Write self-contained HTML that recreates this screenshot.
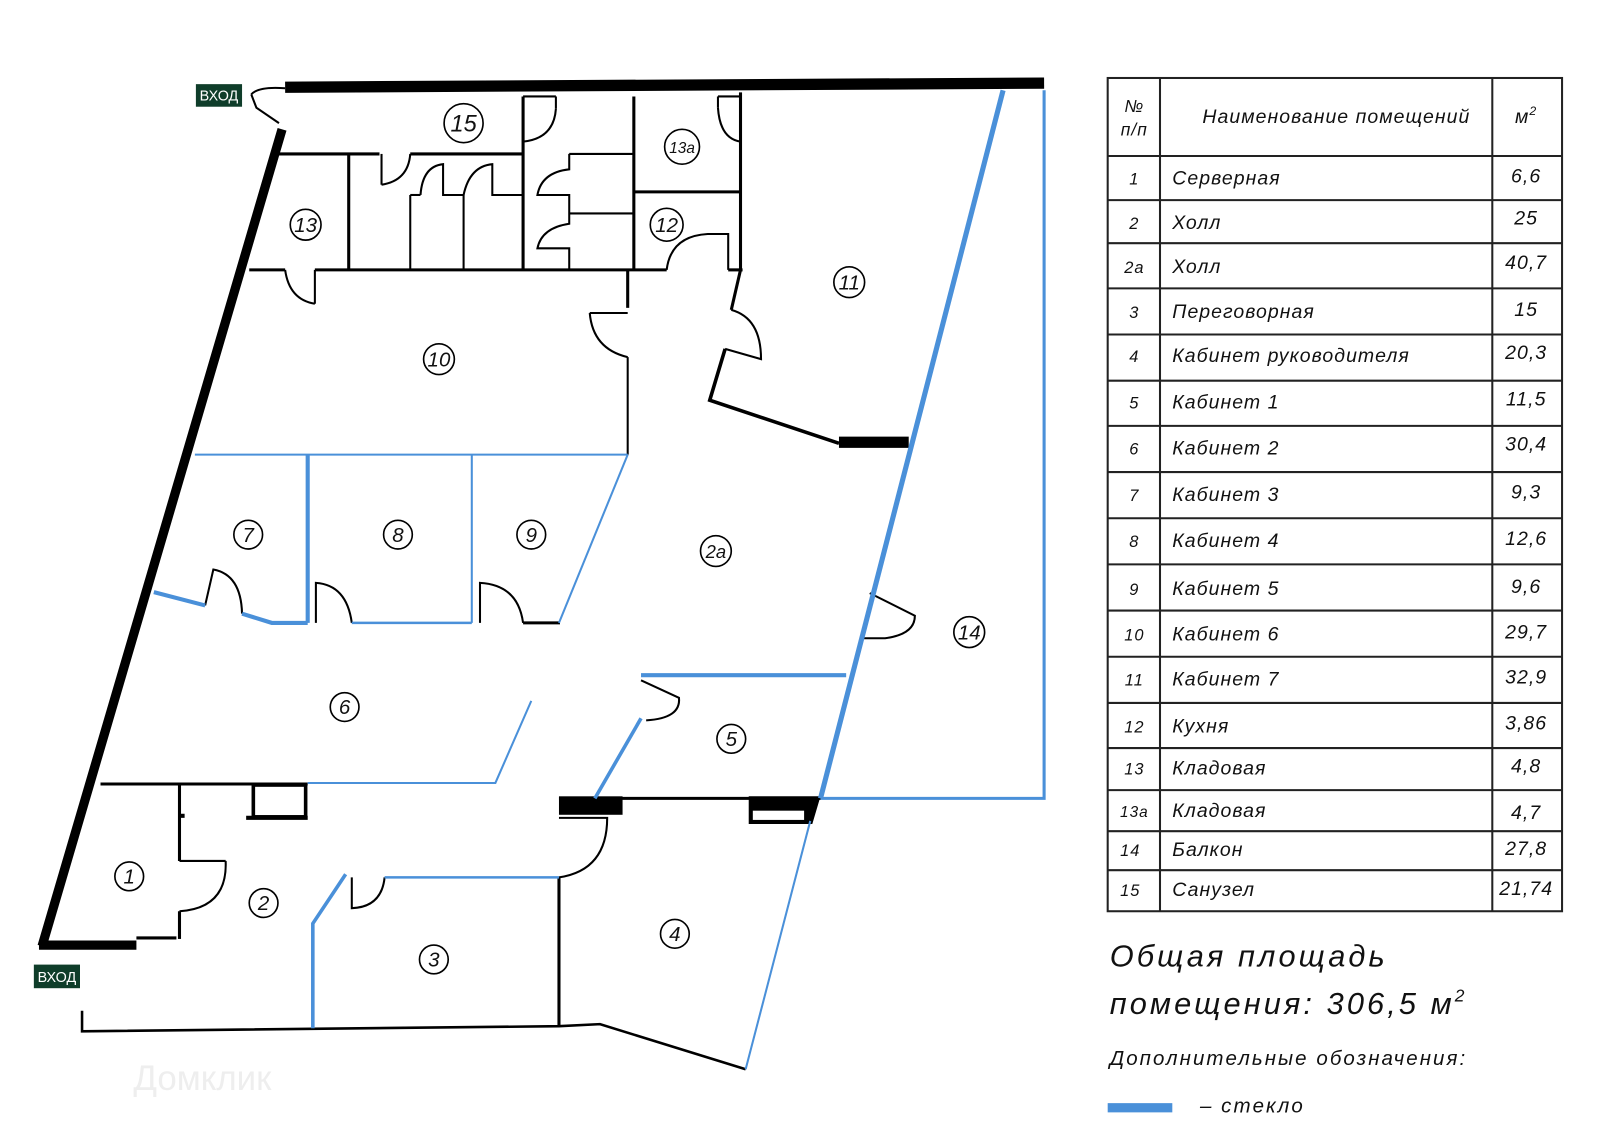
<!DOCTYPE html>
<html><head><meta charset="utf-8"><style>
html,body{margin:0;padding:0;background:#fff;}
svg{display:block}
text{font-family:"Liberation Sans","DejaVu Sans",sans-serif;font-style:italic;fill:#111}
.n{font-size:20px;text-anchor:middle}
.t{font-size:19px;letter-spacing:1px}
</style></head><body>
<svg width="1600" height="1137" viewBox="0 0 1560 1108" preserveAspectRatio="none" xmlns="http://www.w3.org/2000/svg">
<g stroke="#000" fill="none" stroke-linecap="butt">
<line x1="278" y1="85" x2="1018" y2="81" stroke-width="11"/>
<line x1="275" y1="126" x2="41" y2="922" stroke-width="9"/>
<line x1="38" y1="921" x2="133" y2="921" stroke-width="9"/>
<line x1="133" y1="914" x2="172" y2="914" stroke-width="3"/>
<path d="M245 92 Q252 84 278 86 M245 92 L250 105 L272 120" stroke-width="2"/>
<line x1="265" y1="150" x2="370" y2="150" stroke-width="3"/>
<line x1="400" y1="150" x2="510" y2="150" stroke-width="3"/>
<line x1="372" y1="150" x2="372" y2="180" stroke-width="2"/>
<path d="M372 180 Q398 176 400 150" stroke-width="2"/>
<line x1="340" y1="150" x2="340" y2="263" stroke-width="3"/>
<line x1="510" y1="94" x2="510" y2="263" stroke-width="3"/>
<line x1="510" y1="94" x2="542" y2="94" stroke-width="2"/>
<line x1="542" y1="94" x2="542" y2="106" stroke-width="2"/>
<path d="M510 138 Q540 135 542 106" stroke-width="2"/>
<line x1="618" y1="94" x2="618" y2="263" stroke-width="3"/>
<line x1="722" y1="90" x2="722" y2="263" stroke-width="3"/>
<line x1="618" y1="187" x2="722" y2="187" stroke-width="3"/>
<line x1="722" y1="94" x2="700" y2="94" stroke-width="2"/><line x1="700" y1="94" x2="700" y2="105" stroke-width="2"/>
<path d="M700 105 Q702 135 722 138" stroke-width="2"/>
<line x1="400" y1="190" x2="400" y2="263" stroke-width="2"/>
<line x1="452" y1="190" x2="452" y2="263" stroke-width="2"/>
<line x1="400" y1="190" x2="410" y2="190" stroke-width="2"/>
<path d="M410 190 Q412 162 432 160 L432 190 L452 190" stroke-width="2"/>
<path d="M452 190 Q458 162 480 160 L480 190 L510 190" stroke-width="2"/>
<line x1="555" y1="150" x2="618" y2="150" stroke-width="2"/>
<line x1="555" y1="208" x2="618" y2="208" stroke-width="2"/>
<path d="M555 150 L555 165 Q528 168 524 190 L555 190 L555 208" stroke-width="2"/>
<path d="M555 208 L555 218 Q528 222 524 242 L555 242 L555 263" stroke-width="2"/>
<path d="M650 263 Q654 230 690 228 L710 228 L710 263" stroke-width="2"/>
<line x1="243" y1="263" x2="278" y2="263" stroke-width="3"/>
<line x1="307" y1="263" x2="650" y2="263" stroke-width="3"/>
<line x1="710" y1="263" x2="724" y2="263" stroke-width="3"/>
<line x1="307" y1="263" x2="307" y2="296" stroke-width="2"/>
<path d="M278 263 Q282 292 307 296" stroke-width="2"/>
<line x1="612" y1="263" x2="612" y2="300" stroke-width="3"/>
<line x1="575" y1="305" x2="612" y2="305" stroke-width="2"/>
<path d="M575 305 Q578 340 612 348" stroke-width="2"/>
<line x1="612" y1="348" x2="612" y2="443" stroke-width="2"/>
<path d="M722 263 L713 302" stroke-width="3"/>
<path d="M713 302 Q742 310 742 350 L707 340" stroke-width="2"/>
<path d="M707 340 L692 390 L818 432" stroke-width="3.5"/>
<line x1="818" y1="431" x2="886" y2="431" stroke-width="11"/>
<path d="M200 590 L208 555 Q235 560 236 598" stroke-width="2"/>
<path d="M308 607 L308 568 Q338 570 343 607" stroke-width="2"/>
<path d="M468 607 L468 568 Q505 570 510 607" stroke-width="2"/>
<line x1="510" y1="607" x2="546" y2="607" stroke-width="3"/>
<path d="M848 578 L892 600 Q892 618 863 622 L838 622" stroke-width="2"/>
<line x1="98" y1="764" x2="300" y2="764" stroke-width="3"/>
<rect x="247" y="765" width="51" height="31" stroke-width="3.5"/>
<line x1="240" y1="797" x2="300" y2="797" stroke-width="4"/>
<line x1="175" y1="764" x2="175" y2="839" stroke-width="3"/>
<line x1="175" y1="795" x2="180" y2="795" stroke-width="4"/>
<line x1="175" y1="839" x2="220" y2="839" stroke-width="2"/>
<path d="M220 839 Q222 885 175 888" stroke-width="2"/>
<line x1="175" y1="888" x2="175" y2="915" stroke-width="3"/>
<line x1="545" y1="778" x2="800" y2="778" stroke-width="3"/>
<rect x="545" y="776" width="62" height="18" fill="#000" stroke="none"/>
<path d="M730 776 L800 776 L792 803 L730 803 Z" fill="#000" stroke="none"/>
<rect x="734" y="790" width="50" height="9" fill="#fff" stroke="none"/>
<path d="M625 663 L662 680 Q664 700 630 702" stroke-width="2"/>
<path d="M545 797 L592 797 Q592 848 545 855" stroke-width="2"/>
<line x1="545" y1="855" x2="545" y2="1000" stroke-width="3"/>
<path d="M343 855 L343 885 Q372 884 375 855" stroke-width="2"/>
<path d="M80 985 L80 1005 L545 1000 L585 998 L727 1042" stroke-width="2.5"/>
</g>
<g stroke="#4a90d9" fill="none">
<line x1="978" y1="88" x2="800" y2="778" stroke-width="5"/>
<path d="M1018 88 L1018 778 L800 778" stroke-width="3"/>
<line x1="190" y1="443" x2="612" y2="443" stroke-width="2"/>
<line x1="300" y1="443" x2="300" y2="607" stroke-width="4"/>
<line x1="460" y1="443" x2="460" y2="607" stroke-width="2"/>
<line x1="612" y1="443" x2="545" y2="607" stroke-width="2"/>
<path d="M150 577 L200 590" stroke-width="4"/>
<path d="M236 598 L265 607 L300 607" stroke-width="4"/>
<line x1="343" y1="607" x2="460" y2="607" stroke-width="2.5"/>
<path d="M518 683 L483 763 L300 763" stroke-width="2"/>
<line x1="625" y1="658" x2="825" y2="658" stroke-width="4"/>
<line x1="625" y1="700" x2="580" y2="778" stroke-width="3.5"/>
<line x1="375" y1="855" x2="545" y2="855" stroke-width="2.5"/>
<path d="M337 852 L305 900 L305 1002" stroke-width="3.5"/>
<line x1="790" y1="800" x2="727" y2="1042" stroke-width="2"/>
<rect x="1080" y="1075" width="63" height="9" fill="#4a90d9" stroke="none"/>
</g>
<rect x="191" y="82" width="45" height="22" fill="#0f3d2a"/>
<text x="213.5" y="98" style="font-style:normal;font-size:14px;fill:#fff;text-anchor:middle">ВХОД</text>
<rect x="33" y="940" width="45" height="23" fill="#0f3d2a"/>
<text x="55.5" y="957" style="font-style:normal;font-size:14px;fill:#fff;text-anchor:middle">ВХОД</text>
<g fill="none" stroke="#000" stroke-width="1.6">
<circle cx="452" cy="120" r="19"/><circle cx="665" cy="143" r="17"/><circle cx="298" cy="219" r="15"/>
<circle cx="650" cy="219" r="16"/><circle cx="828" cy="275" r="15"/><circle cx="428" cy="350" r="15"/>
<circle cx="242" cy="521" r="14"/><circle cx="388" cy="521" r="14"/><circle cx="518" cy="521" r="14"/>
<circle cx="698" cy="537" r="15"/><circle cx="945" cy="616" r="15"/><circle cx="336" cy="689" r="14"/>
<circle cx="713" cy="720" r="14"/><circle cx="126" cy="854" r="14"/><circle cx="257" cy="880" r="14"/>
<circle cx="423" cy="935" r="14"/><circle cx="658" cy="910" r="14"/>
</g>
<g class="n">
<text x="452" y="128" style="font-size:23px">15</text>
<text x="665" y="149" style="font-size:15px">13a</text>
<text x="298" y="226">13</text><text x="650" y="226">12</text><text x="828" y="282">11</text>
<text x="428" y="357">10</text><text x="242" y="528">7</text><text x="388" y="528">8</text>
<text x="518" y="528">9</text><text x="698" y="544" style="font-size:18px">2a</text><text x="945" y="623">14</text>
<text x="336" y="696">6</text><text x="713" y="727">5</text><text x="126" y="861">1</text>
<text x="257" y="887">2</text><text x="423" y="942">3</text><text x="658" y="917">4</text>
</g>
<text x="130" y="1062" style="font-style:normal;font-size:34px;fill:#eee">Домклик</text>
<g stroke="#222" stroke-width="2" fill="none">
<rect x="1080" y="76" width="443" height="812"/>
<line x1="1131" y1="76" x2="1131" y2="888"/>
<line x1="1455" y1="76" x2="1455" y2="888"/>
<path d="M1080 152H1523M1080 195H1523M1080 237H1523M1080 281H1523M1080 326H1523M1080 371H1523M1080 415H1523M1080 460H1523M1080 505H1523M1080 550H1523M1080 595H1523M1080 640H1523M1080 685H1523M1080 729H1523M1080 770H1523M1080 810H1523M1080 848H1523"/>
</g>
<g class="t">
<text x="1106" y="109" style="text-anchor:middle;font-size:17px">№</text>
<text x="1106" y="132" style="text-anchor:middle;font-size:17px">п/п</text>
<text x="1303" y="120" style="text-anchor:middle">Наименование помещений</text>
<text x="1488" y="120" style="text-anchor:middle">м<tspan dy="-8" style="font-size:12px">2</tspan></text>
</g>
<g class="t">
<text x="1106" y="180" style="text-anchor:middle;font-size:16px">1</text><text x="1143" y="180">Серверная</text><text x="1488" y="178" style="text-anchor:middle">6,6</text>
<text x="1106" y="223" style="text-anchor:middle;font-size:16px">2</text><text x="1143" y="223">Холл</text><text x="1488" y="219" style="text-anchor:middle">25</text>
<text x="1106" y="266" style="text-anchor:middle;font-size:16px">2a</text><text x="1143" y="266">Холл</text><text x="1488" y="262" style="text-anchor:middle">40,7</text>
<text x="1106" y="310" style="text-anchor:middle;font-size:16px">3</text><text x="1143" y="310">Переговорная</text><text x="1488" y="308" style="text-anchor:middle">15</text>
<text x="1106" y="353" style="text-anchor:middle;font-size:16px">4</text><text x="1143" y="353">Кабинет руководителя</text><text x="1488" y="350" style="text-anchor:middle">20,3</text>
<text x="1106" y="398" style="text-anchor:middle;font-size:16px">5</text><text x="1143" y="398">Кабинет 1</text><text x="1488" y="395" style="text-anchor:middle">11,5</text>
<text x="1106" y="443" style="text-anchor:middle;font-size:16px">6</text><text x="1143" y="443">Кабинет 2</text><text x="1488" y="439" style="text-anchor:middle">30,4</text>
<text x="1106" y="488" style="text-anchor:middle;font-size:16px">7</text><text x="1143" y="488">Кабинет 3</text><text x="1488" y="486" style="text-anchor:middle">9,3</text>
<text x="1106" y="533" style="text-anchor:middle;font-size:16px">8</text><text x="1143" y="533">Кабинет 4</text><text x="1488" y="531" style="text-anchor:middle">12,6</text>
<text x="1106" y="580" style="text-anchor:middle;font-size:16px">9</text><text x="1143" y="580">Кабинет 5</text><text x="1488" y="578" style="text-anchor:middle">9,6</text>
<text x="1106" y="624" style="text-anchor:middle;font-size:16px">10</text><text x="1143" y="624">Кабинет 6</text><text x="1488" y="622" style="text-anchor:middle">29,7</text>
<text x="1106" y="668" style="text-anchor:middle;font-size:16px">11</text><text x="1143" y="668">Кабинет 7</text><text x="1488" y="666" style="text-anchor:middle">32,9</text>
<text x="1106" y="714" style="text-anchor:middle;font-size:16px">12</text><text x="1143" y="714">Кухня</text><text x="1488" y="711" style="text-anchor:middle">3,86</text>
<text x="1106" y="755" style="text-anchor:middle;font-size:16px">13</text><text x="1143" y="755">Кладовая</text><text x="1488" y="753" style="text-anchor:middle">4,8</text>
<text x="1106" y="796" style="text-anchor:middle;font-size:15px">13a</text><text x="1143" y="796">Кладовая</text><text x="1488" y="798" style="text-anchor:middle">4,7</text>
<text x="1102" y="834" style="text-anchor:middle;font-size:16px">14</text><text x="1143" y="834">Балкон</text><text x="1488" y="833" style="text-anchor:middle">27,8</text>
<text x="1102" y="873" style="text-anchor:middle;font-size:16px">15</text><text x="1143" y="873">Санузел</text><text x="1488" y="872" style="text-anchor:middle">21,74</text>
</g>
<text x="1082" y="942" style="font-size:30px;letter-spacing:3px">Общая площадь</text>
<text x="1082" y="988" style="font-size:30px;letter-spacing:3px">помещения: 306,5 м<tspan dy="-12" style="font-size:17px">2</tspan></text>
<text x="1082" y="1038" style="font-size:20px;letter-spacing:2px">Дополнительные обозначения:</text>
<text x="1170" y="1084" style="font-size:20px;letter-spacing:2px">– стекло</text>
</svg>
</body></html>
